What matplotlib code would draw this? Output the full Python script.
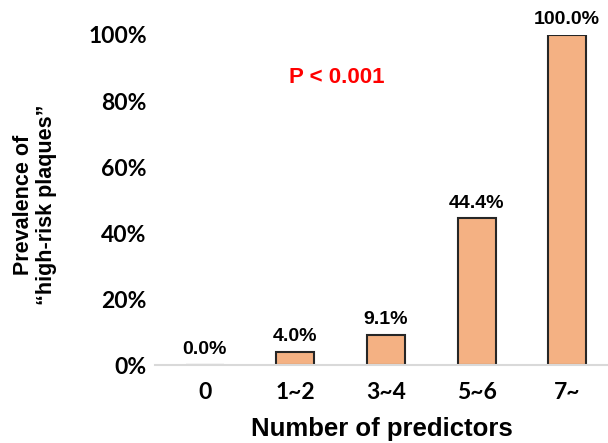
import matplotlib
matplotlib.use("Agg")
import matplotlib.pyplot as plt
from matplotlib.ticker import PercentFormatter

categories = ["0", "1~2", "3~4", "5~6", "7~"]
prevalence = [0.0, 4.0, 9.1, 44.4, 100.0]
yticks = [0, 20, 40, 60, 80, 100]

fig = plt.figure(figsize=(6.08, 4.43), dpi=100)
ax = fig.add_axes([0.255, 0.176, 0.745, 0.745])

x = list(range(len(categories)))
ax.bar(x, prevalence, width=0.42, color="#F4B183", edgecolor="#262626", linewidth=1.5, zorder=3)

for xi, v in zip(x, prevalence):
    ax.text(xi, v + 2.0, f"{v:.1f}%", ha="center", va="bottom", fontsize=14,
            fontweight="bold", family="Liberation Sans", clip_on=False)

ax.set_xlim(-0.55, 4.45)
ax.set_ylim(0, 100)
ax.set_yticks(yticks)
ax.yaxis.set_major_formatter(PercentFormatter(decimals=0))
ax.set_xticks(x)
ax.set_xticklabels(categories)

for lab in ax.get_yticklabels() + ax.get_xticklabels():
    lab.set_fontweight("bold")
    lab.set_fontsize(16.5)
    lab.set_family("Lato")

ax.tick_params(axis="both", length=0)
ax.tick_params(axis="y", pad=6)
ax.tick_params(axis="x", pad=12)

for s in ["top", "right", "left"]:
    ax.spines[s].set_visible(False)
ax.spines["bottom"].set_color("#D9D9D9")
ax.spines["bottom"].set_linewidth(1.5)
ax.spines["bottom"].set_zorder(4)

ax.set_xlabel("Number of predictors", fontsize=18.5, fontweight="bold", family="Liberation Sans", labelpad=10)
fig.text(0.058, 0.537, "Prevalence of\n\u201chigh-risk plaques\u201d", rotation=90, ha="center", va="center",
         fontsize=15.5, fontweight="bold", family="Liberation Sans", linespacing=1.1)

ax.text(1.46, 87, "P < 0.001", color="#FF0000", fontsize=16, fontweight="bold",
        family="Liberation Sans", ha="center", va="center")

fig.savefig("out.png", dpi=100)
